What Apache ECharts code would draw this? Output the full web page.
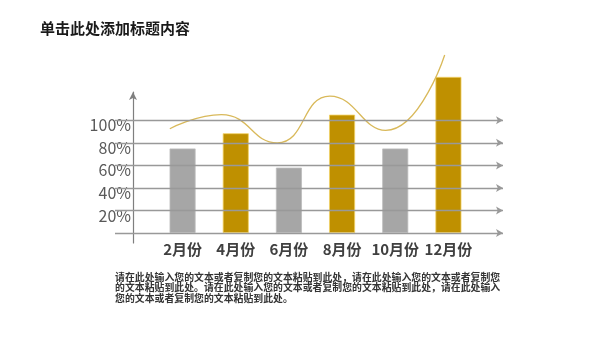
<!DOCTYPE html>
<html><head><meta charset="utf-8">
<script src="https://cdn.jsdelivr.net/npm/echarts@6/dist/echarts.min.js"></script>
<style>html,body{margin:0;padding:0;background:#fff}#c{width:600px;height:338px}</style>
</head><body><div id="c"></div>
<script>
// ---- data ----
const titleText = '单击此处添加标题内容';
const categories = ['2月份', '4月份', '6月份', '8月份', '10月份', '12月份'];
const barValues = [75, 88.5, 58, 105, 75, 138.5];
const barKinds = ['gray', 'gold', 'gray', 'gold', 'gray', 'gold'];
const lineX = [-0.24, 0.73, 1.78, 2.77, 3.82, 4.93];
const lineValues = [92.5, 105, 80, 121.5, 91, 158];
const gridValues = [0, 20, 40, 60, 80, 100];
const tickLabels = ['20%', '40%', '60%', '80%', '100%'];
const bodyLines = [
  '请在此处输入您的文本或者复制您的文本粘贴到此处，请在此处输入您的文本或者复制您',
  '的文本粘贴到此处。请在此处输入您的文本或者复制您的文本粘贴到此处，请在此处输入',
  '您的文本或者复制您的文本粘贴到此处。'
];

const colors = { gray: '#a6a6a6', gold: '#bf9000' };
const FONT = '"Noto Sans CJK SC", "Noto Sans", sans-serif';
const chart = echarts.init(document.getElementById('c'), null, { renderer: 'canvas' });

const baseY = 233, pxPerUnit = 1.127;
chart.setOption({
  animation: false,
  title: {
    text: titleText, left: 40, top: 21, padding: 0,
    textStyle: { fontSize: 15, fontWeight: 'bold', color: '#1a1a1a', fontFamily: FONT }
  },
  graphic: [{
    type: 'text', left: 115, top: 272,
    style: { text: bodyLines.join('\n'), font: 'bold 9.9px ' + FONT, fill: '#333', lineHeight: 10.4 }
  }],
  grid: [
    { left: 115, right: 97, top: baseY - 120 * pxPerUnit, bottom: 338 - baseY },
    { left: 156, right: 125, top: baseY - 160 * pxPerUnit, bottom: 338 - baseY },
    { left: 133, width: 1, top: 92, bottom: 338 - 243 }
  ],
  xAxis: [
    { gridIndex: 0, type: 'value', show: false, min: 0, max: 1 },
    { gridIndex: 1, type: 'category', data: categories,
      axisLine: { show: false }, axisTick: { show: false },
      axisLabel: { interval: 0, margin: 9, fontSize: 15, fontWeight: 'bold', color: '#404040', fontFamily: FONT } },
    { gridIndex: 1, type: 'value', show: false, min: -0.5, max: 5.5 },
    { gridIndex: 2, type: 'value', show: false, min: 0, max: 1 }
  ],
  yAxis: [
    { gridIndex: 0, type: 'value', min: 0, max: 120, interval: 20,
      axisLine: { show: false }, axisTick: { show: false }, splitLine: { show: false },
      axisLabel: {
        margin: -16, fontSize: 16, color: '#595959', fontFamily: FONT,
        verticalAlign: 'top', lineHeight: 10,
        formatter: v => { const i = gridValues.indexOf(v); return i > 0 ? tickLabels[i - 1] : ''; }
      } },
    { gridIndex: 1, type: 'value', min: 0, max: 160, show: false },
    { gridIndex: 2, type: 'value', min: 0, max: 1, position: 'left',
      axisLine: { show: true, symbol: ['none', 'arrow'], symbolSize: [6, 8],
        lineStyle: { color: '#7f7f7f', width: 1.2 } },
      axisTick: { show: false }, axisLabel: { show: false }, splitLine: { show: false } }
  ],
  series: [
    { type: 'line', xAxisIndex: 0, yAxisIndex: 0, data: [], silent: true,
      markLine: {
        silent: true, symbol: ['none', 'arrow'], symbolSize: [6, 7],
        label: { show: false },
        lineStyle: { color: '#999999', width: 1.4, type: 'solid' },
        data: gridValues.map(v => ({ yAxis: v }))
      } },
    { type: 'bar', xAxisIndex: 1, yAxisIndex: 1, barWidth: 26, clip: false,
      data: barValues.map((v, i) => ({
        value: v,
        itemStyle: { color: colors[barKinds[i]],
          borderColor: barKinds[i] === 'gold' ? '#f2d264' : '#bdbdbd', borderWidth: 0.8 }
      })) },
    { type: 'line', xAxisIndex: 2, yAxisIndex: 1, smooth: 0.5, showSymbol: false, clip: false,
      data: lineX.map((x, i) => [x, lineValues[i]]),
      lineStyle: { color: '#d9b95a', width: 1.3 } }
  ]
});
</script></body></html>
